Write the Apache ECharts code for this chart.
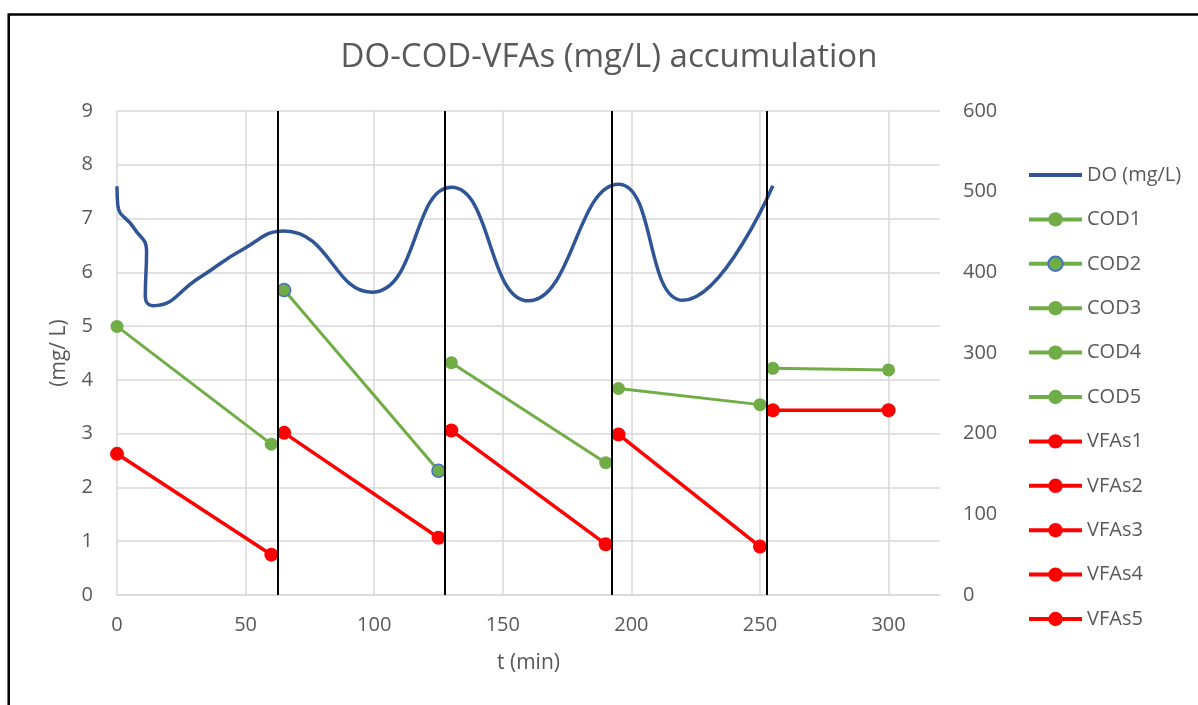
<!DOCTYPE html>
<html>
<head>
<meta charset="utf-8">
<script src="https://cdn.jsdelivr.net/npm/echarts@6/dist/echarts.min.js"></script>
<style>html,body{margin:0;padding:0;background:#fff;}#c{width:1198px;height:705px;}</style>
</head>
<body>
<div id="c"></div>
<script>
// ---- data ----
const titleText = 'DO-COD-VFAs (mg/L) accumulation';
const xTicks = [0, 50, 100, 150, 200, 250, 300];
const doData = [[0,7.6],[0.3,7.25],[6.5,6.83],[11.5,6.4],[11,5.55],[14,5.38],[32,5.9],[49,6.43],[65,6.77],[99,5.63],[130,7.58],[160,5.47],[195,7.64],[220,5.48],[255,7.61]];
const cod1 = [[0,333],[60,187]];
const cod2 = [[65,378],[125,154]];
const cod3 = [[130,288],[190,164]];
const cod4 = [[195,256],[250,236]];
const cod5 = [[255,281],[300,279]];
const vfas1 = [[0,175],[60,50]];
const vfas2 = [[65,201],[125,71]];
const vfas3 = [[130,204],[190,63]];
const vfas4 = [[195,199],[250,60]];
const vfas5 = [[255,229],[300,229]];
const phaseLines = [62.5, 127.5, 192.5, 252.5];
const legendNames = ['DO (mg/L)','COD1','COD2','COD3','COD4','COD5','VFAs1','VFAs2','VFAs3','VFAs4','VFAs5'];

const FONT = 'Open Sans';
const GREY = '#595959';
const chart = echarts.init(document.getElementById('c'), null, {renderer:'canvas'});

function codSeries(name, data, extra) {
  return Object.assign({
    name, type:'line', yAxisIndex:1, data,
    symbol:'circle', symbolSize:13, color:'#70AD47',
    lineStyle:{width:3, color:'#70AD47'},
    itemStyle:{color:'#70AD47'}, z:3
  }, extra || {});
}
function vfaSeries(name, data) {
  return {
    name, type:'line', yAxisIndex:1, data,
    symbol:'circle', symbolSize:14, color:'#FF0000',
    lineStyle:{width:3.5, color:'#FF0000'},
    itemStyle:{color:'#FF0000'}, z:3
  };
}

const option = {
  animation:false,
  backgroundColor:'#fff',
  graphic:[
    {type:'rect', shape:{x:8.7, y:14.5, width:1300, height:800}, style:{fill:'none', stroke:'#000', lineWidth:2.5}, silent:true},
    {type:'text', x:609, y:58, style:{text:titleText, font:'normal 33px "Open Sans"', fill:GREY, align:'center', verticalAlign:'middle'}}
  ],
  grid:{left:117, right:258, top:111, bottom:110, containLabel:false},
  legend:{
    orient:'vertical', left:1027, top:165, padding:0,
    itemWidth:53, itemHeight:18, itemGap:24.4,
    lineStyle:{width:4},
    textStyle:{fontFamily:FONT, fontSize:20, color:GREY, lineHeight:20},
    data:legendNames.map((n, i) => i === 0 ? {name:n, itemStyle:{opacity:0}} : n)
  },
  xAxis:{
    type:'value', min:0, max:320, interval:50,
    name:'t (min)', nameLocation:'middle', nameGap:58,
    nameTextStyle:{fontFamily:FONT, fontSize:21, color:GREY},
    axisLine:{show:true, lineStyle:{color:'#D9D9D9', width:1.5}},
    axisTick:{show:false},
    axisLabel:{fontFamily:FONT, fontSize:20, color:GREY, margin:20, showMaxLabel:false,
      formatter:v => xTicks.indexOf(v) >= 0 ? String(v) : ''},
    splitLine:{show:true, showMaxLine:false, lineStyle:{color:'#D9D9D9', width:1.5}}
  },
  yAxis:[
    {type:'value', min:0, max:9, interval:1, position:'left',
     name:'(mg/ L)', nameLocation:'middle', nameGap:47, nameRotate:90,
     nameTextStyle:{fontFamily:FONT, fontSize:21, color:GREY},
     axisLine:{show:false}, axisTick:{show:false},
     axisLabel:{fontFamily:FONT, fontSize:20, color:GREY, margin:24},
     splitLine:{show:true, lineStyle:{color:'#D9D9D9', width:1.5}}},
    {type:'value', min:0, max:600, interval:100, position:'right',
     axisLine:{show:false}, axisTick:{show:false},
     axisLabel:{fontFamily:FONT, fontSize:20, color:GREY, margin:23},
     splitLine:{show:false}}
  ],
  series:[
    {name:'DO (mg/L)', type:'line', yAxisIndex:0, data:doData, smooth:0.5, smoothMonotone:null,
     symbol:'none', showSymbol:false, color:'#2F5597', lineStyle:{width:3.5, color:'#2F5597'}, z:2},
    codSeries('COD1', cod1),
    codSeries('COD2', cod2, {itemStyle:{color:'#70AD47', borderColor:'#4472C4', borderWidth:1.5}}),
    codSeries('COD3', cod3),
    codSeries('COD4', cod4),
    codSeries('COD5', cod5),
    vfaSeries('VFAs1', vfas1),
    vfaSeries('VFAs2', vfas2),
    vfaSeries('VFAs3', vfas3),
    vfaSeries('VFAs4', vfas4),
    vfaSeries('VFAs5', vfas5),
    {name:'phase', type:'line', yAxisIndex:0, data:[], symbol:'none', silent:true, z:4,
     markLine:{silent:true, symbol:['none','none'], label:{show:false},
       lineStyle:{color:'#000', width:2, type:'solid'},
       emphasis:{disabled:true},
       data:phaseLines.map(v => ({xAxis:v}))}}
  ]
};
chart.setOption(option);
</script>
</body>
</html>
